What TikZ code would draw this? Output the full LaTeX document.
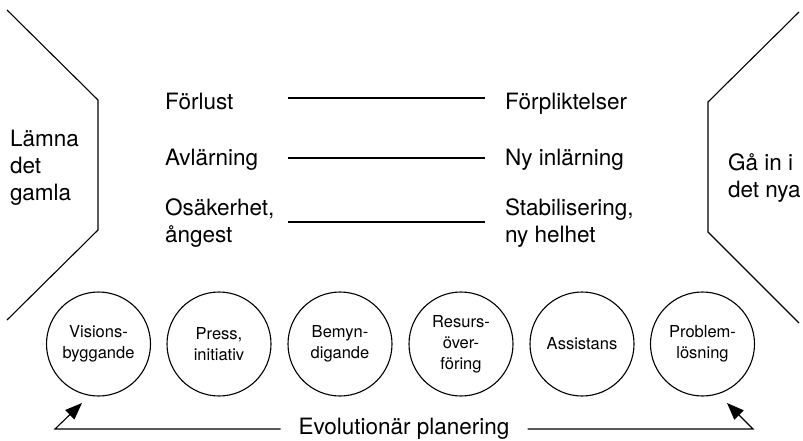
\documentclass[tikz,border=0pt]{standalone}
\usepackage{fontspec}
\setmainfont{TeX Gyre Heros}
\usetikzlibrary{arrows.meta}
\begin{document}
\begin{tikzpicture}[x=1pt,y=-1pt,
  every node/.style={inner sep=0pt, outer sep=0pt},
  bigtext/.style={font=\fontsize{22.5}{27}\selectfont, align=left},
  circtext/.style={circle, draw, line width=1.1pt, minimum size=104pt, align=center,
                   font=\fontsize{16.5}{21}\selectfont},
  frame/.style={line width=1.1pt},
  pairline/.style={line width=1.1pt},
  evarrow/.style={line width=1.1pt, -{Triangle[length=17pt,width=13pt]}}
]
\useasboundingbox (0,0) rectangle (803,441);

% side frames
\coordinate (L1) at (7,10);
\coordinate (L2) at (98,100);
\coordinate (L3) at (98,230);
\coordinate (L4) at (7,320);
\draw[frame] (L1) -- (L2) -- (L3) -- (L4);
\coordinate (R1) at (799,12);
\coordinate (R2) at (708,102);
\coordinate (R3) at (708,232);
\coordinate (R4) at (799,323);
\draw[frame] (R1) -- (R2) -- (R3) -- (R4);

% side texts
\node[bigtext, anchor=west] (lamna) at (10,168) {Lämna\\det\\gamla};
\node[bigtext, anchor=west] (gain) at (728,178) {Gå in i\\det nya};

% left column
\node[bigtext, anchor=base west] (forlust) at (165,110) {Förlust};
\node[bigtext, anchor=base west] (avlarn) at (165,165) {Avlärning};
\node[bigtext, anchor=west] (osak) at (165,223.5) {Osäkerhet,\\ångest};

% right column
\node[bigtext, anchor=base west] (forpl) at (505,110) {Förpliktelser};
\node[bigtext, anchor=base west] (nyinl) at (505,165) {Ny inlärning};
\node[bigtext, anchor=west] (stab) at (505,223.5) {Stabilisering,\\ny helhet};

% connecting lines
\coordinate (a1) at (288,98);  \coordinate (b1) at (485,98);
\coordinate (a2) at (288,158); \coordinate (b2) at (485,158);
\coordinate (a3) at (288,222); \coordinate (b3) at (485,222);
\draw[pairline] (a1) -- (b1);
\draw[pairline] (a2) -- (b2);
\draw[pairline] (a3) -- (b3);

% circles
\node[circtext] (c1) at (98.5,344) {Visions-\\byggande};
\node[circtext] (c2) at (219,344) {Press,\\initiativ};
\node[circtext] (c3) at (340,344) {Bemyn-\\digande};
\node[circtext] (c4) at (461,344) {Resurs-\\över-\\föring};
\node[circtext] (c5) at (582,344) {Assistans};
\node[circtext] (c6) at (702.5,344) {Problem-\\lösning};

% evolutionary planning
\node[bigtext, anchor=center] (ev) at (404,429) {Evolutionär planering};
\coordinate (al) at (55,429);
\coordinate (tl) at (82,403);
\coordinate (ar) at (753,429);
\coordinate (tr) at (727,403);
\draw[evarrow] ([xshift=-18pt]ev.west) -- (al) -- (tl);
\draw[evarrow] ([xshift=18pt]ev.east) -- (ar) -- (tr);
\end{tikzpicture}
\end{document}
